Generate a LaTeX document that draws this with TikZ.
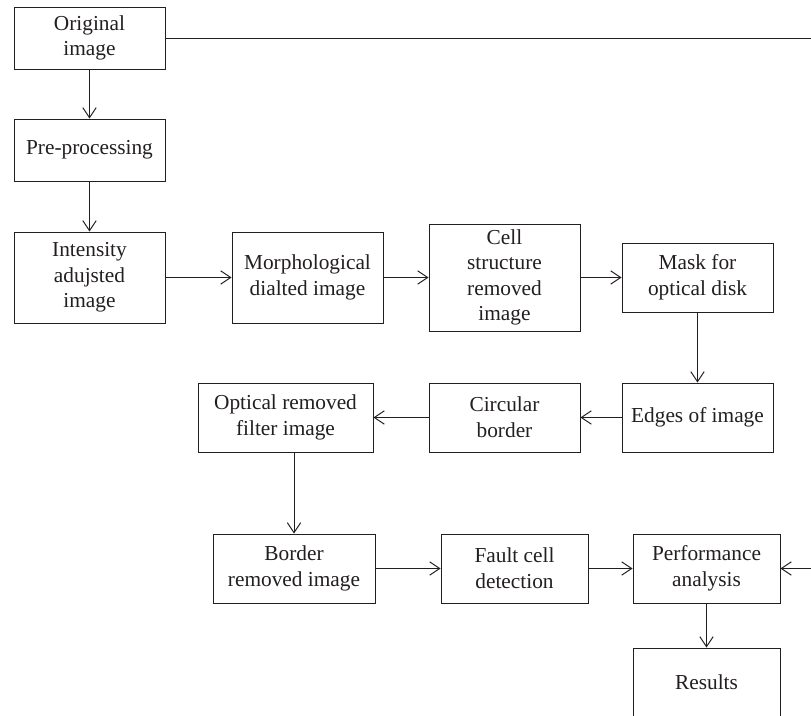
\documentclass[tikz,border=0pt]{standalone}
\usepackage{fontspec}
\setmainfont{Liberation Serif}
\usetikzlibrary{arrows.meta}
\definecolor{ink}{RGB}{35,31,32}
\begin{document}
\begin{tikzpicture}[x=0.75pt,y=-0.75pt,
  box/.style={draw=ink, line width=0.7pt, text=ink, align=center,
    font=\fontsize{16}{19.2}\selectfont, inner sep=0pt,
    minimum width=113.25pt, minimum height=51.75pt},
  conn/.style={draw=ink, line width=0.7pt, -{Straight Barb[length=7.5pt,width=10pt]}}]
\useasboundingbox (0,0) rectangle (811,716);
\clip (0,0) rectangle (811,716);
\fill[white] (0,0) rectangle (811,716);

\node[box, minimum height=46.5pt] (orig) at (89.5,38) {Original\\image};
\node[box, minimum height=46.5pt] (pre) at (89.5,150) {Pre-processing};
\node[box, minimum height=68.25pt] (inten) at (89.5,277.5) {Intensity\\adujsted\\image};
\node[box, minimum height=68.25pt] (morph) at (307.5,277.5) {Morphological\\dialted image};
\node[box, minimum height=80.25pt] (cell) at (504.5,277.5) {Cell\\structure\\removed\\image};
\node[box] (mask) at (697.5,277.5) {Mask for\\optical disk};
\node[box] (edges) at (697.5,417.5) {Edges of image};
\node[box] (circ) at (504.5,417.5) {Circular\\border};
\node[box, minimum width=131.25pt] (opt) at (285.5,417.5) {Optical removed\\filter image};
\node[box, minimum width=121.5pt] (border) at (294,568.5) {Border\\removed image};
\node[box, minimum width=110.25pt] (fault) at (514.5,568.5) {Fault cell\\detection};
\node[box, minimum width=110.25pt] (perf) at (706.5,568.5) {Performance\\analysis};
\node[box, minimum width=110.25pt] (res) at (706.5,682.5) {Results};

\coordinate (far) at (850,38);

\draw[conn] (orig.south) -- (pre.north);
\draw[conn] (pre.south) -- (inten.north);
\draw[conn] (inten.east) -- (morph.west);
\draw[conn] (morph.east) -- (cell.west);
\draw[conn] (cell.east) -- (mask.west);
\draw[conn] (mask.south) -- (edges.north);
\draw[conn] (edges.west) -- (circ.east);
\draw[conn] (circ.west) -- (opt.east);
\draw[conn] (border.north |- opt.south) -- (border.north);
\draw[conn] (border.east) -- (fault.west);
\draw[conn] (fault.east) -- (perf.west);
\draw[conn] (perf.south) -- (res.north);
\draw[conn] (orig.east) -- (far) |- (perf.east);
\end{tikzpicture}
\end{document}
